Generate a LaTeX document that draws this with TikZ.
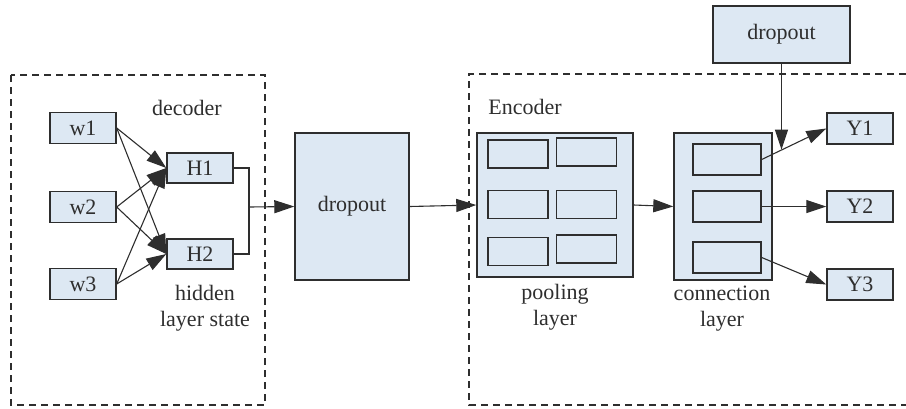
\documentclass[tikz,border=0pt]{standalone}
\usepackage{fontspec}
\setmainfont{Liberation Serif}
\usetikzlibrary{arrows.meta,calc}
\definecolor{boxfill}{HTML}{DDE8F3}
\definecolor{ink}{HTML}{2E2E2E}
\tikzset{
  blk/.style={draw=ink, line width=1.4pt, fill=boxfill, inner sep=0pt,
              font=\fontsize{22}{25}\selectfont, text=ink},
  cell/.style={blk, minimum width=60pt, minimum height=28pt},
  conn/.style={draw=ink, line width=1.1pt,
               -{Triangle[length=20pt,width=13pt]}},
  wire/.style={draw=ink, line width=1.1pt},
  frame/.style={draw=ink, line width=1.1pt, dash pattern=on 7pt off 5pt},
  lbl/.style={font=\fontsize{22}{26}\selectfont, text=ink, align=center, inner sep=0pt}
}
\begin{document}
\begin{tikzpicture}[x=1pt,y=-1pt]
\useasboundingbox (0,0) rectangle (906,408);

% group frames
\draw[frame] (11,75) rectangle (265,405);
\draw[frame] (906,74) -- (469,74) -- (469,405) -- (906,405);

% decoder side
\node[blk, minimum width=66pt, minimum height=31pt] (w1) at (83,128) {w1};
\node[blk, minimum width=66pt, minimum height=31pt] (w2) at (83,207) {w2};
\node[blk, minimum width=66pt, minimum height=31pt] (w3) at (83,284) {w3};
\node[blk, minimum width=66pt, minimum height=30pt] (H1) at (200,168) {H1};
\node[blk, minimum width=66pt, minimum height=30pt] (H2) at (200,254) {H2};
\node[lbl] (dec) at (187,108) {decoder};
\node[lbl] (hid) at (205,308) {hidden\\layer state};

% central dropout
\node[blk, minimum width=114pt, minimum height=147pt] (dA) at (352,206.5) {dropout};

% encoder: pooling layer
\node[blk, minimum width=156pt, minimum height=144pt] (pool) at (555,205) {};
\node[cell] (p11) at (518,154) {};
\node[cell] (p12) at (586.5,152) {};
\node[cell] (p21) at (518,204.5) {};
\node[cell] (p22) at (586.5,204.5) {};
\node[cell] (p31) at (518,251.5) {};
\node[cell] (p32) at (586.5,249) {};
\node[lbl] (enc) at (525,107) {Encoder};
\node[lbl] (pl) at (555,307.5) {pooling\\layer};

% encoder: connection layer
\node[blk, minimum width=98pt, minimum height=147pt] (cl) at (723,206.5) {};
\node[blk, minimum width=68pt, minimum height=31pt] (c1) at (727,159.5) {};
\node[blk, minimum width=68pt, minimum height=31pt] (c2) at (727,206.5) {};
\node[blk, minimum width=68pt, minimum height=31pt] (c3) at (727,257.5) {};
\node[lbl] (cll) at (722,308.5) {connection\\layer};

% outputs
\node[blk, minimum width=66pt, minimum height=31pt] (Y1) at (860,128.5) {Y1};
\node[blk, minimum width=66pt, minimum height=31pt] (Y2) at (860,206.5) {Y2};
\node[blk, minimum width=66pt, minimum height=31pt] (Y3) at (860,284.5) {Y3};
\node[blk, minimum width=137pt, minimum height=57pt] (dB) at (781.5,34.5) {dropout};

% inputs to hidden states
\foreach \s in {w1,w2,w3}{
  \draw[conn] (\s.east) -- (H1.west);
  \draw[conn] (\s.east) -- (H2.west);
}

% merge of hidden states into dropout
\coordinate (jn) at (249,207);
\draw[wire] (H1.east) -| (jn) |- (H2.east);
\draw[conn] (jn) -- (dA.west);

\draw[conn] (dA.east) -- (pool.west);
\draw[conn] (pool.east) -- (cl.west);

\draw[conn] (c1.east) -- (Y1.west);
\draw[conn] (c2.east) -- (Y2.west);
\draw[conn] (c3.east) -- (Y3.west);

% dropout applied to the first output link
\coordinate (dm) at ($(c1.east)!0.32!(Y1.west)$);
\draw[conn] (dB.south) -- (dB.south |- dm);
\end{tikzpicture}
\end{document}
